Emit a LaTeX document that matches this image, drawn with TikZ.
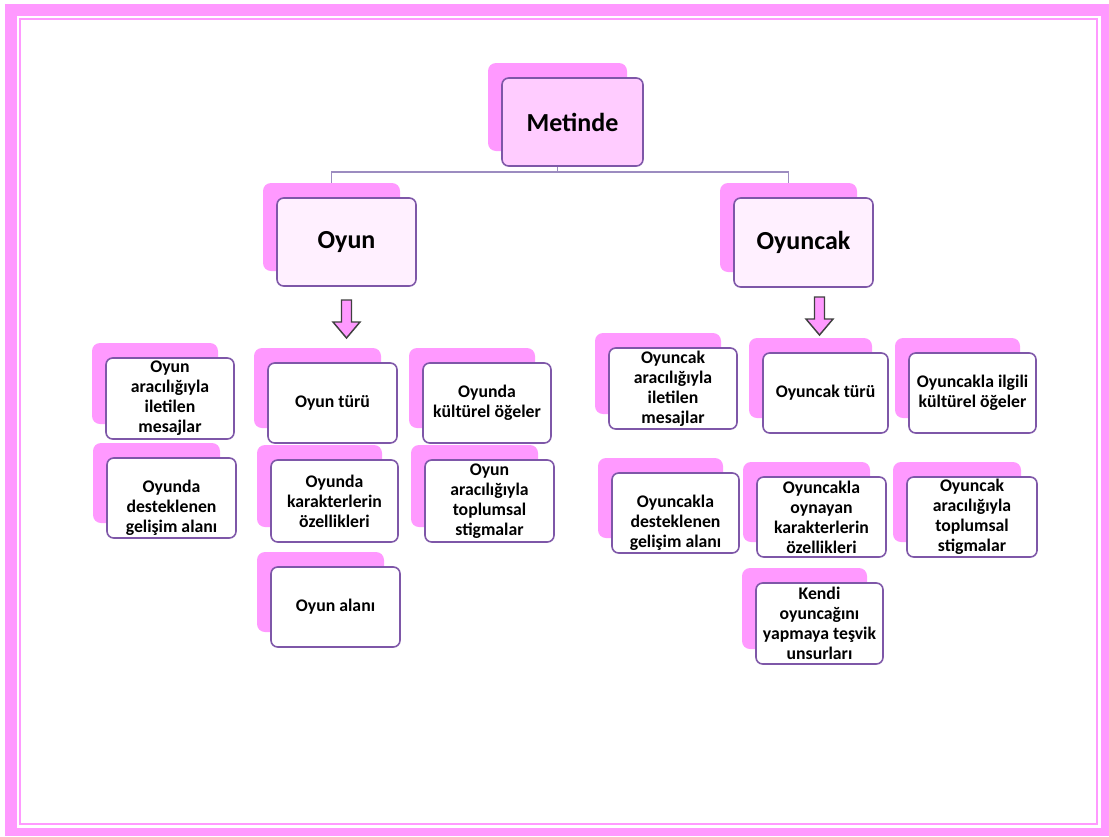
\documentclass[tikz,border=0pt]{standalone}
\usepackage{fontspec}
\setmainfont{Carlito}
\usetikzlibrary{calc}

\definecolor{pk}{HTML}{FF99FF}
\definecolor{pkfront}{HTML}{FFCCFF}
\definecolor{pklight}{HTML}{FFF0FF}
\definecolor{frameline}{HTML}{7E57A8}
\definecolor{connline}{HTML}{9C8CC0}
\definecolor{arrowline}{HTML}{404040}

\tikzset{
  shadowbox/.style={fill=pk, draw=none, rounded corners=6pt, inner sep=0pt},
  frontbox/.style={fill=white, draw=frameline, line width=1.2pt, rounded corners=5pt,
    inner sep=0pt, align=center, text=black,
    font=\fontsize{13.3}{15}\selectfont\bfseries},
  bigbox/.style={frontbox, font=\fontsize{19.5}{23}\selectfont\bfseries},
  txt/.style={inner sep=0pt, align=center, text=black,
    font=\fontsize{13.3}{15}\selectfont\bfseries},
  conn/.style={draw=connline, line width=1.1pt},
  downarrow/.style={fill=pk, draw=arrowline, line width=1.1pt, line join=miter},
}

% card: shadow panel behind a framed front panel
% #1 extra front options, #2 name, #3..#6 front corners (px), #7 text
\newcommand\card[7][]{%
  \node[shadowbox, minimum width={(#5-#3-2)*0.75pt}, minimum height={(#6-#4)*0.75pt}]
    (#2-s) at ({(#3+#5)/2-15},{(#4+#6)/2-15}) {};
  \node[frontbox, #1, minimum width={(#5-#3)*0.75pt}, minimum height={(#6-#4)*0.75pt}]
    (#2) at ({(#3+#5)/2},{(#4+#6)/2}) {#7};
}

% block arrow pointing down, tip at bottom; #1 name, #2 centre x, #3 top y
\newcommand\blockarrow[3]{%
  \coordinate (#1) at (#2,#3);
  \draw[downarrow] ($(#1)+(-5,0)$) -- ($(#1)+(5,0)$) -- ($(#1)+(5,22)$)
    -- ($(#1)+(13.5,22)$) -- ($(#1)+(0,38)$) -- ($(#1)+(-13.5,22)$)
    -- ($(#1)+(-5,22)$) -- cycle;
}

\begin{document}
\begin{tikzpicture}[x=0.75pt,y=-0.75pt]
  \useasboundingbox (0,0) rectangle (1109,836);
  \fill[white] (0,0) rectangle (1109,836);

  % page frame
  \fill[pk] (5,4) rectangle (1109,836);
  \fill[white] (17,16) rectangle (1101,828);
  \draw[pk, line width=1.6pt] (20,19) rectangle (1097,824);

  % top level
  \card[bigbox, fill=pkfront]{met}{502}{78}{643}{166}{Metinde}
  \coordinate (split) at (met-s.south |- 0,172);
  \draw[conn] (met-s.south |- met.south) -- (split);

  % second level
  \card[bigbox, fill=pklight]{oyun}{277}{198}{416}{286}{Oyun}
  \card[bigbox, fill=pklight]{oyuncak}{734}{198}{873}{287}{Oyuncak}

  % branch lines, ending on the shadow panels
  \draw[conn] (split) -| (oyun-s.north);
  \draw[conn] (split) -| (oyuncak-s.north);

  \blockarrow{arA}{346.5}{300}
  \blockarrow{arB}{819.5}{297}

  % Oyun branch
  \card{a1}{106}{358}{234}{439}{Oyun\\aracılığıyla\\iletilen\\mesajlar}
  \card{a2}{107}{458}{236}{538}{}
  \node[txt] (a2-t) at ($(a2.center)+(0,10)$) {Oyunda\\desteklenen\\gelişim alanı};
  \card{b1}{268}{363}{397}{443}{Oyun türü}
  \card{b2}{271}{460}{398}{542}{Oyunda\\karakterlerin\\özellikleri}
  \card{b3}{271}{567}{400}{647}{Oyun alanı}
  \card{c1}{423}{363}{551}{443}{Oyunda\\kültürel öğeler}
  \card{c2}{425}{460}{554}{542}{Oyun\\aracılığıyla\\toplumsal\\stigmalar}

  % Oyuncak branch
  \card{d1}{609}{348}{737}{429}{Oyuncak\\aracılığıyla\\iletilen\\mesajlar}
  \card{d2}{612}{473}{739}{553}{}
  \node[txt] (d2-t) at ($(d2.center)+(0,10)$) {Oyuncakla\\desteklenen\\gelişim alanı};
  \card{e1}{763}{353}{888}{433}{Oyuncak türü}
  \card{e2}{757}{477}{886}{557}{Oyuncakla\\oynayan\\karakterlerin\\özellikleri}
  \card{e3}{756}{583}{883}{664}{Kendi\\oyuncağını\\yapmaya teşvik\\unsurları}
  \card{f1}{909}{353}{1036}{433}{Oyuncakla ilgili\\kültürel öğeler}
  \card{f2}{907}{477}{1037}{557}{Oyuncak\\aracılığıyla\\toplumsal\\stigmalar}
\end{tikzpicture}
\end{document}
